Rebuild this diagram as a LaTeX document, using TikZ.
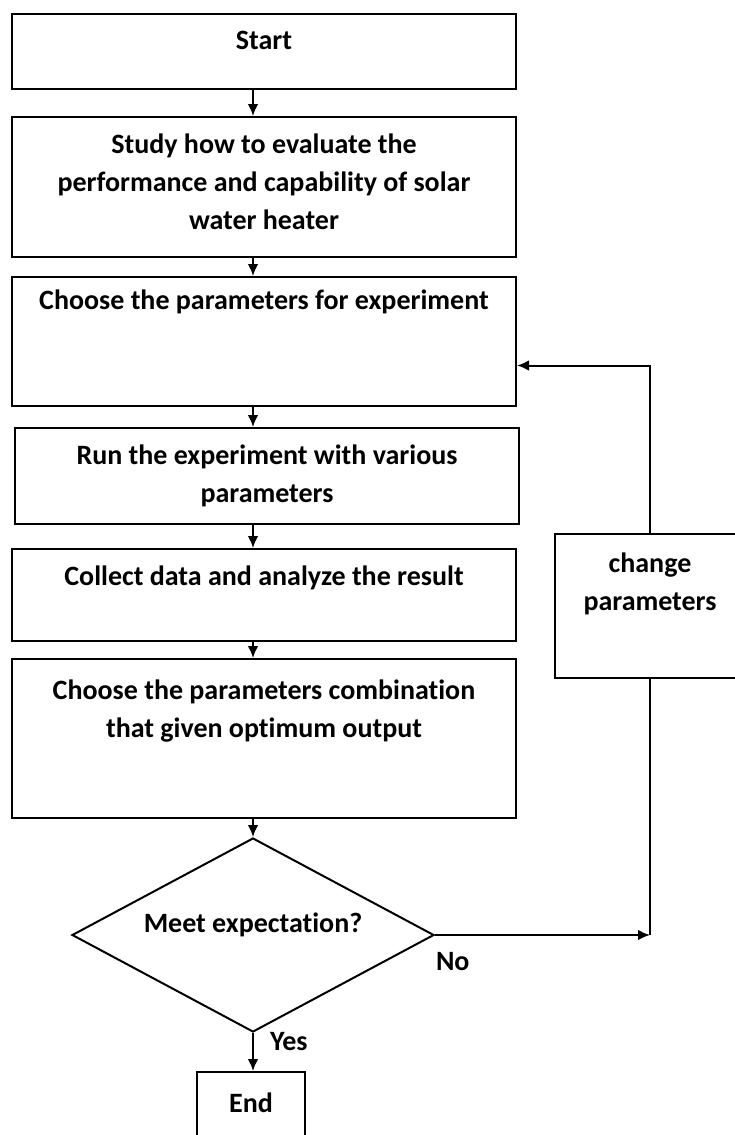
\documentclass[tikz,border=0pt]{standalone}
\usepackage{fontspec}
\setmainfont[Ligatures=NoCommon]{Carlito}
\usetikzlibrary{
  shapes.geometric,%
  arrows.meta,%
  positioning
}
\tikzset{>={Latex[length=9pt,width=8pt]}}
\tikzset{font=\fontsize{21}{28.5}\selectfont\bfseries}
\tikzset{stage/.style={draw, anchor=north, minimum width=378pt, inner sep=0pt},
  stagetext/.style={anchor=north, inner sep=0pt, align=center, yshift=-12.5pt},
  check/.style={draw, diamond, aspect=1.87, minimum width=271.5pt,
    minimum height=145.5pt, inner sep=0pt}}

\begin{document}
\begin{tikzpicture}[x=0.75pt, y=-0.75pt, line width=1.5pt]
  \useasboundingbox (0,0) rectangle (735,1135);
  % main column
  \node[stage, minimum height=56.25pt,
    label={[stagetext]north:Start}] (start) at (264,13) {};
  \node[stage, minimum height=105pt,
    label={[stagetext]north:{Study how to evaluate the\\performance and capability of solar\\water heater}}] (study) at (264,116) {};
  \node[stage, minimum height=96.75pt,
    label={[stagetext, yshift=3pt]north:Choose the parameters for experiment}] (choose) at (264,276) {};
  \node[stage, minimum height=72pt,
    label={[stagetext]north:{Run the experiment with various\\parameters}}] (run) at (267,427) {};
  \node[stage, minimum height=69pt,
    label={[stagetext]north:Collect data and analyze the result}] (collect) at (264,548) {};
  \node[stage, minimum height=119.25pt,
    label={[stagetext, yshift=-3pt]north:{Choose the parameters combination\\that given optimum output}}] (comb) at (264,658) {};
  \node[check, label={[yshift=7.5pt]center:Meet expectation?}] (meet) at (253,935) {};
  \node[stage, minimum width=81pt, minimum height=60pt,
    label={[stagetext, yshift=-3pt]north:End}] (end) at (251,1071) {};
  % loop back
  \node[stage, minimum width=142.5pt, minimum height=108pt,
    label={[stagetext, yshift=-1.5pt]north:{change\\parameters}}] (change) at (650,533) {};

  \foreach \a/\b in {start/study, study/choose, choose/run, run/collect, collect/comb}
    \draw[->] (meet.north |- \a.south) -- (meet.north |- \b.north);
  \draw[->] (meet.north |- comb.south) -- (meet.north);
  \draw[->] (meet.south) -- node[pos=.23, anchor=west, inner sep=0pt, xshift=12pt] {Yes} (meet.south |- end.north);
  \draw[->] (meet.east) -- node[pos=0, anchor=north west, inner sep=0pt, yshift=-12pt] {No} (change.south |- meet.east);
  \draw (change.south) -- (change.south |- meet.east);
  \draw[->] (change.north) |- ([yshift=-18pt]choose.east);
\end{tikzpicture}
\end{document}
